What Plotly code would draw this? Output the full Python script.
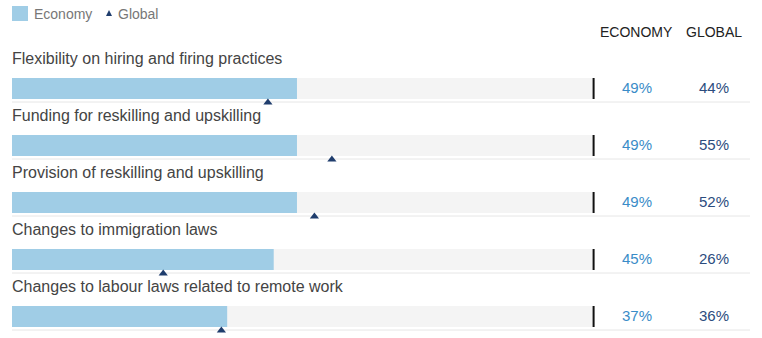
import plotly.graph_objects as go

categories = [
    "Flexibility on hiring and firing practices",
    "Funding for reskilling and upskilling",
    "Provision of reskilling and upskilling",
    "Changes to immigration laws",
    "Changes to labour laws related to remote work",
]
economy = [49, 49, 49, 45, 37]
global_vals = [44, 55, 52, 26, 36]
header_labels = ["ECONOMY", "GLOBAL"]
legend_labels = ["Economy", "Global"]

W, H = 762, 338
FONT = "Liberation Sans, Arial, Helvetica, sans-serif"
BAR_COLOR = "#a0cde6"
BG_COLOR = "#f4f4f4"
TRI_COLOR = "#1f3d6d"
ECON_TXT = "#3a8cc8"
GLOB_TXT = "#2c4c7e"

# pixel mapping
x0_px, px_per_unit = 12, 5.816
xr = [-x0_px / px_per_unit, (W - x0_px) / px_per_unit]
row_px, first_center = 57, 88.5
yr = [(H - first_center) / row_px, -first_center / row_px]
bw = 21 / row_px

idx = list(range(len(categories)))

fig = go.Figure()
fig.add_trace(go.Bar(x=[100] * len(idx), y=idx, orientation="h", width=bw,
                     marker=dict(color=BG_COLOR, line=dict(width=0)),
                     hoverinfo="skip", showlegend=False))
fig.add_trace(go.Bar(x=economy, y=idx, orientation="h", width=bw,
                     marker=dict(color=BAR_COLOR, line=dict(width=0)),
                     name=legend_labels[0], showlegend=False))
fig.add_trace(go.Scatter(x=global_vals, y=[i + 14 / row_px for i in idx], mode="markers",
                         marker=dict(symbol="triangle-up", size=8, color=TRI_COLOR),
                         name=legend_labels[1], showlegend=False))

shapes = []
annotations = []
for i, cat in enumerate(categories):
    shapes.append(dict(type="line", xref="x", yref="y", x0=0, x1=(750 - x0_px) / px_per_unit,
                       y0=i + 13.5 / row_px, y1=i + 13.5 / row_px,
                       line=dict(color="#e6e6e6", width=1), layer="below"))
    shapes.append(dict(type="line", xref="x", yref="y", x0=100, x1=100,
                       y0=i - bw / 2, y1=i + bw / 2,
                       line=dict(color="#111111", width=2), layer="above"))
    annotations.append(dict(x=0, y=i - 30.5 / row_px, xref="x", yref="y", text=cat,
                            showarrow=False, xanchor="left", yanchor="middle", xshift=-2,
                            font=dict(family=FONT, size=16, color="#444444")))
    annotations.append(dict(x=637 / W, y=i - 1.5 / row_px, xref="paper", yref="y",
                            text=f"{economy[i]}%", showarrow=False, xanchor="center",
                            yanchor="middle", font=dict(family=FONT, size=15, color=ECON_TXT)))
    annotations.append(dict(x=714 / W, y=i - 1.5 / row_px, xref="paper", yref="y",
                            text=f"{global_vals[i]}%", showarrow=False, xanchor="center",
                            yanchor="middle", font=dict(family=FONT, size=15, color=GLOB_TXT)))

annotations.append(dict(x=636 / W, y=1 - 32 / H, xref="paper", yref="paper", text=header_labels[0],
                        showarrow=False, xanchor="center", yanchor="middle",
                        font=dict(family=FONT, size=14, color="#222222")))
annotations.append(dict(x=714 / W, y=1 - 32 / H, xref="paper", yref="paper", text=header_labels[1],
                        showarrow=False, xanchor="center", yanchor="middle",
                        font=dict(family=FONT, size=14, color="#222222")))

shapes.append(dict(type="rect", xref="paper", yref="paper", x0=12 / W, x1=28 / W,
                   y0=1 - 21 / H, y1=1 - 6 / H, fillcolor=BAR_COLOR, line=dict(width=0)))
annotations.append(dict(x=32 / W, y=1 - 13.5 / H, xref="paper", yref="paper", text=legend_labels[0],
                        showarrow=False, xanchor="left", yanchor="middle",
                        font=dict(family=FONT, size=14, color="#777777")))
shapes.append(dict(type="path", xref="paper", yref="paper",
                   path=f"M {106/W} {1-16/H} L {112/W} {1-16/H} L {109/W} {1-10/H} Z",
                   fillcolor=TRI_COLOR, line=dict(width=0)))
annotations.append(dict(x=116 / W, y=1 - 13.5 / H, xref="paper", yref="paper", text=legend_labels[1],
                        showarrow=False, xanchor="left", yanchor="middle",
                        font=dict(family=FONT, size=14, color="#777777")))

fig.update_layout(
    width=W, height=H, margin=dict(l=0, r=0, t=0, b=0),
    paper_bgcolor="white", plot_bgcolor="white",
    barmode="overlay", showlegend=False,
    xaxis=dict(range=xr, visible=False, fixedrange=True),
    yaxis=dict(range=yr, visible=False, fixedrange=True),
    shapes=shapes, annotations=annotations,
)

fig.write_html("out.html", config={"displayModeBar": False},
               post_script="document.body.style.margin='0';document.body.style.overflow='hidden';")
